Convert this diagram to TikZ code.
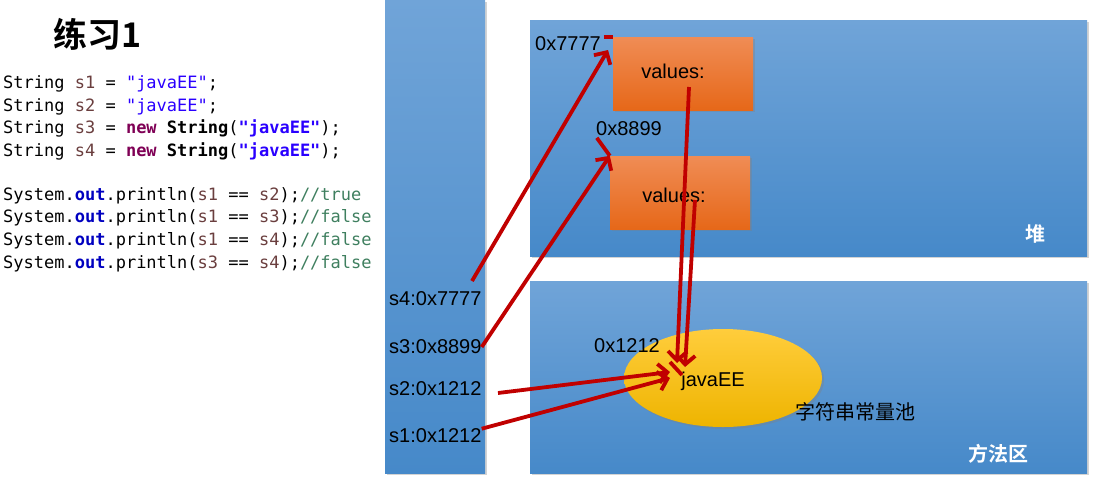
\documentclass[tikz,border=0pt]{standalone}
\usepackage{fontspec}
\setmainfont{Liberation Sans}
\newfontfamily\cjk[BoldFont={Noto Sans CJK SC Bold}]{Noto Sans CJK SC}
\newfontfamily\codefont{DejaVu Sans Mono}
\usetikzlibrary{arrows.meta,positioning,calc,shapes.geometric,shadows}
\definecolor{paneltop}{RGB}{112,164,216}
\definecolor{panelbot}{RGB}{70,137,201}
\definecolor{objtop}{RGB}{240,140,85}
\definecolor{objbot}{RGB}{230,104,25}
\definecolor{pooltop}{RGB}{255,205,60}
\definecolor{poolbot}{RGB}{238,180,0}
\definecolor{arrowred}{RGB}{192,0,0}
\definecolor{varbrown}{RGB}{106,62,62}
\definecolor{strblue}{RGB}{42,0,255}
\definecolor{kwpurple}{RGB}{127,0,85}
\definecolor{fieldblue}{RGB}{0,0,192}
\definecolor{cmtgreen}{RGB}{63,127,95}

\begin{document}
\begin{tikzpicture}[x=1pt,y=-1pt,
  every node/.style={font=\fontsize{20}{24}\selectfont,inner sep=0pt},
  code/.style={anchor=west,font=\codefont\fontsize{17}{20}\selectfont,text height=12pt,text depth=4pt},
  panel/.style={anchor=north west,top color=paneltop,bottom color=panelbot,
    drop shadow={shadow xshift=2pt,shadow yshift=-2pt,opacity=0.35}},
  objbox/.style={top color=objtop,bottom color=objbot,minimum width=140pt,minimum height=73pt,
    drop shadow={shadow xshift=2pt,shadow yshift=-2pt,opacity=0.35}},
  areaname/.style={font=\cjk\bfseries\fontsize{20}{24}\selectfont,text=white},
  ptr/.style={draw=arrowred,line width=3.8pt,-{Straight Barb[length=9pt,width=19pt]}},
  tick/.style={draw=arrowred,line width=3.8pt}]
  \useasboundingbox (0,0) rectangle (1094,483);

  % code on the left
  \node[font=\cjk\bfseries\fontsize{34}{38}\selectfont] (title) at (98,34) {练习1};
  \foreach \i/\y in {1/84,2/107}
    \node[code] (decl\i) at (3,\y) {String \textcolor{varbrown}{s\i} = \textcolor{strblue}{"javaEE"};};
  \foreach \i/\y in {3/129,4/152}
    \node[code] (decl\i) at (3,\y) {String \textcolor{varbrown}{s\i} = \textcolor{kwpurple}{\bfseries new} \textbf{String}(\textcolor{strblue}{\bfseries"javaEE"});};
  \foreach \a/\b/\r/\y [count=\k] in {1/2/true/196,1/3/false/218,1/4/false/241,3/4/false/264}
    \node[code] (cmp\k) at (3,\y) {System.\textcolor{fieldblue}{\bfseries out}.println(\textcolor{varbrown}{s\a} == \textcolor{varbrown}{s\b});\textcolor{cmtgreen}{//\r}};

  % memory areas
  \node[panel,minimum width=100pt,minimum height=473pt] (stack) at (385,0) {};
  \node[panel,minimum width=557pt,minimum height=236pt] (heap) at (530,20) {};
  \node[panel,minimum width=557pt,minimum height=192pt] (method) at (530,281) {};
  \node[areaname] (heapname) at (1035,234) {堆};
  \node[areaname] (methodname) at (998,454) {方法区};

  % heap objects and string pool
  \node[objbox] (obj1) at (683,73.5) {};
  \node[objbox] (obj2) at (680,192.5) {};
  \node (val1) at (673,71) {values:};
  \node (val2) at (674,195) {values:};
  \node (a7777) at (568,44) {0x7777};
  \node (a8899) at (629,129) {0x8899};
  \node[ellipse,top color=pooltop,bottom color=poolbot,minimum width=198pt,minimum height=98pt,
    drop shadow={shadow xshift=2pt,shadow yshift=-2pt,opacity=0.35}] (pool) at (723,378) {};
  \node (a1212) at (627,346) {0x1212};
  \node (javaee) at (713,381) {javaEE};
  \node[font=\cjk\fontsize{20}{24}\selectfont] (poolname) at (855,412) {字符串常量池};

  % stack variables
  \foreach \name/\val/\y in {s4/7777/299,s3/8899/347,s2/1212/389,s1/1212/436}
    \node[anchor=west] (\name) at (389,\y) {\name:0x\val};

  % references
  \coordinate (s4out) at (472,281);
  \coordinate (s2out) at (498,393);
  \coordinate (p7777) at (608,50);
  \coordinate (pool2) at (670,372);
  \coordinate (pool1) at (670,378);
  \coordinate (val1out) at (689,87);
  \coordinate (val2out) at (695,200);
  \coordinate (pool3) at (677,363);
  \coordinate (pool4) at (685,367);
  \coordinate (mark) at (682,375);
  \draw[ptr] (s4out) -- (p7777);
  \draw[ptr] (s3.east) -- (obj2.north west);
  \draw[ptr] (s2out) -- (pool2);
  \draw[ptr] (s1.north east) -- (pool1);
  \draw[ptr] (val1out) -- (pool3);
  \draw[ptr] (val2out) -- (pool4);
  \draw[tick] ($(obj1.north west)+(-9,0)$) -- (obj1.north west);
  \draw[tick] ($(obj2.north west)+(-13,-18)$) -- (obj2.north west);
  \draw[tick] ($(mark)+(-12,-13)$) -- (mark);
\end{tikzpicture}
\end{document}
